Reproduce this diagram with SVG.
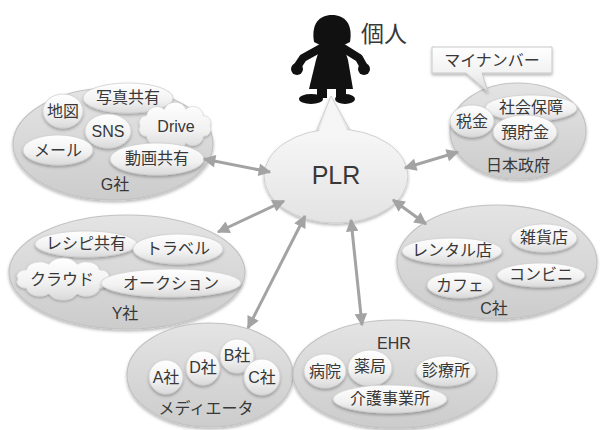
<svg xmlns="http://www.w3.org/2000/svg" width="600" height="430" viewBox="0 0 600 430">
  <defs>
    <linearGradient id="gGroup" x1="0" y1="0" x2="0" y2="1">
      <stop offset="0" stop-color="#e4e4e4"/>
      <stop offset="1" stop-color="#cccccc"/>
    </linearGradient>
    <linearGradient id="gItem" x1="0" y1="0" x2="0" y2="1">
      <stop offset="0" stop-color="#ffffff"/>
      <stop offset="0.6" stop-color="#f1f1f1"/>
      <stop offset="1" stop-color="#d9d9d9"/>
    </linearGradient>
    <linearGradient id="gHub" x1="0" y1="0" x2="0" y2="1">
      <stop offset="0" stop-color="#f7f7f7"/>
      <stop offset="1" stop-color="#e3e3e3"/>
    </linearGradient>
    <filter id="shadow" x="-20%" y="-20%" width="140%" height="150%">
      <feDropShadow dx="0" dy="2" stdDeviation="1.6" flood-color="#000" flood-opacity="0.28"/>
    </filter>
    <marker id="head" viewBox="0 0 10 10" refX="9" refY="5" markerWidth="4.5" markerHeight="4.2" orient="auto-start-reverse" markerUnits="strokeWidth">
      <path d="M0,0 L10,5 L0,10 Z" fill="#a3a3a3"/>
    </marker>
    <path id="cloud" d="M50,0 A10,10 0 0 1 40.5,14.7 A15,15 0 0 1 15.5,23.8 A17,17 0 0 1 -15.5,23.8 A15,15 0 0 1 -40.5,14.7 A10,10 0 0 1 -50,0 A10,10 0 0 1 -40.5,-14.7 A15,15 0 0 1 -15.5,-23.8 A17,17 0 0 1 15.5,-23.8 A15,15 0 0 1 40.5,-14.7 A10,10 0 0 1 50,0 Z"/>
    <style>
      .grp { fill: url(#gGroup); stroke: #c2c2c2; stroke-width: 1.2; filter: url(#shadow); }
      .itm { fill: url(#gItem); stroke: #cfcfcf; stroke-width: 0.8; filter: url(#shadow); }
      .hub { fill: url(#gHub); stroke: #d0d0d0; stroke-width: 1; }
      .cld { fill: url(#gItem); stroke: #d6d6d6; stroke-width: 1; filter: url(#shadow); }
      text { font-family: "Liberation Sans", "Noto Sans CJK JP", sans-serif; fill: #383838; text-anchor: middle; dominant-baseline: central; }
      .t { font-size: 16px; }
      .con { stroke: #a3a3a3; stroke-width: 3; fill: none; marker-start: url(#head); marker-end: url(#head); }
    </style>
  </defs>

  <rect width="600" height="430" fill="#ffffff"/>

  <!-- person -->
  <g id="person" fill="#111">
    <path d="M314,42 C311,24 319,15 332,15 C345,15 353,24 350,42 L344,45 L320,45 Z"/>
    <path d="M321,44 L343,44 L348,60 L353,89 L309,89 L316,60 Z"/>
    <path d="M321,48 L303,58 L297,67 M343,48 L359,58 L364,67" stroke="#111" stroke-width="8" stroke-linecap="round" stroke-linejoin="round" fill="none"/>
    <circle cx="297" cy="69" r="6"/>
    <circle cx="364" cy="69" r="6"/>
    <rect x="317" y="86" width="10" height="12"/>
    <rect x="336" y="86" width="10" height="12"/>
    <ellipse cx="311" cy="99" rx="12" ry="5"/>
    <ellipse cx="345" cy="99" rx="10" ry="5"/>
    <text x="384" y="34" style="font-size:23px">個人</text>
  </g>

  <!-- PLR hub with speech pointer -->
  <g id="plr">
    <path d="M316,132 L331,96 L351,132 Z" class="hub" filter="url(#shadow)"/>
    <ellipse cx="336" cy="176" rx="72" ry="47" class="hub" filter="url(#shadow)"/>
    <path d="M318,134 L331,98 L349,134 Z" fill="#f6f6f6"/>
    <text x="336" y="175" style="font-size:25px">PLR</text>
  </g>

  <!-- G社 -->
  <g id="g-company">
    <ellipse cx="113" cy="144" rx="100" ry="56" class="grp"/>
    <ellipse cx="128" cy="98" rx="45" ry="15" class="itm"/>
    <text x="128" y="97" class="t">写真共有</text>
    <ellipse cx="63" cy="111" rx="20" ry="17" class="itm"/>
    <text x="63" y="111" class="t">地図</text>
    <ellipse cx="108" cy="131" rx="23" ry="17" class="itm"/>
    <text x="108" y="131" class="t">SNS</text>
    <use href="#cloud" class="cld" transform="translate(175,126) scale(0.7,0.7)"/>
    <text x="176" y="126" class="t">Drive</text>
    <ellipse cx="58" cy="150" rx="35" ry="15" class="itm"/>
    <text x="58" y="150" class="t">メール</text>
    <ellipse cx="157" cy="159" rx="47" ry="16" class="itm"/>
    <text x="157" y="158" class="t">動画共有</text>
    <text x="115" y="184" class="t">G社</text>
  </g>

  <!-- Y社 -->
  <g id="y-company">
    <ellipse cx="127" cy="272" rx="118" ry="57" class="grp"/>
    <ellipse cx="86" cy="244" rx="51" ry="13" class="itm"/>
    <text x="86" y="243" class="t">レシピ共有</text>
    <ellipse cx="178" cy="249" rx="45" ry="15" class="itm"/>
    <text x="178" y="248" class="t">トラベル</text>
    <use href="#cloud" class="cld" transform="translate(63,279) scale(0.9,0.62)"/>
    <text x="62" y="279" class="t">クラウド</text>
    <ellipse cx="171" cy="283" rx="70" ry="14" class="itm"/>
    <text x="171" y="283" class="t">オークション</text>
    <text x="125" y="313" class="t">Y社</text>
  </g>

  <!-- 日本政府 -->
  <g id="government">
    <ellipse cx="518" cy="131" rx="68" ry="48" class="grp"/>
    <ellipse cx="531" cy="108" rx="46" ry="13" class="itm"/>
    <text x="531" y="107" class="t">社会保障</text>
    <ellipse cx="472" cy="121" rx="22" ry="16" class="itm"/>
    <text x="472" y="121" class="t">税金</text>
    <ellipse cx="525" cy="132" rx="32" ry="17" class="itm"/>
    <text x="525" y="132" class="t">預貯金</text>
    <text x="518" y="165" class="t">日本政府</text>
  </g>

  <!-- マイナンバー callout -->
  <g id="mynumber">
    <path d="M432,47 L552,47 L552,73 L482,73 L488,92 L466,73 L432,73 Z" fill="url(#gItem)" stroke="#c8c8c8" stroke-width="1" filter="url(#shadow)"/>
    <text x="492" y="60" class="t">マイナンバー</text>
  </g>

  <!-- C社 -->
  <g id="c-company">
    <ellipse cx="497" cy="262" rx="100" ry="57" class="grp"/>
    <ellipse cx="544" cy="238" rx="33" ry="14" class="itm"/>
    <text x="544" y="237" class="t">雑貨店</text>
    <ellipse cx="452" cy="251" rx="50" ry="13" class="itm"/>
    <text x="452" y="250" class="t">レンタル店</text>
    <ellipse cx="541" cy="275" rx="44" ry="12" class="itm"/>
    <text x="541" y="274" class="t">コンビニ</text>
    <ellipse cx="460" cy="285" rx="33" ry="13" class="itm"/>
    <text x="460" y="285" class="t">カフェ</text>
    <text x="494" y="308" class="t">C社</text>
  </g>

  <!-- メディエータ -->
  <g id="mediator">
    <ellipse cx="210" cy="375" rx="83" ry="52" class="grp"/>
    <circle cx="166" cy="377" r="17" class="itm"/>
    <text x="166" y="377" class="t">A社</text>
    <circle cx="203" cy="368" r="17" class="itm"/>
    <text x="203" y="367" class="t">D社</text>
    <circle cx="237" cy="356" r="17" class="itm"/>
    <text x="237" y="355" class="t">B社</text>
    <circle cx="262" cy="377" r="18" class="itm"/>
    <text x="262" y="377" class="t">C社</text>
    <text x="206" y="408" class="t">メディエータ</text>
  </g>

  <!-- EHR -->
  <g id="ehr">
    <ellipse cx="395" cy="374" rx="102" ry="54" class="grp"/>
    <text x="394" y="343" class="t">EHR</text>
    <ellipse cx="325" cy="371" rx="21" ry="17" class="itm"/>
    <text x="325" y="371" class="t">病院</text>
    <ellipse cx="370" cy="368" rx="22" ry="18" class="itm"/>
    <text x="370" y="366" class="t">薬局</text>
    <ellipse cx="446" cy="371" rx="30" ry="15" class="itm"/>
    <text x="446" y="370" class="t">診療所</text>
    <ellipse cx="390" cy="399" rx="57" ry="14" class="itm"/>
    <text x="390" y="398" class="t">介護事業所</text>
  </g>

  <!-- connectors -->
  <g id="connectors">
    <line x1="204" y1="159" x2="270" y2="172" class="con"/>
    <line x1="218" y1="232" x2="284" y2="201" class="con"/>
    <line x1="248" y1="328" x2="305" y2="216" class="con"/>
    <line x1="351" y1="220" x2="362" y2="325" class="con"/>
    <line x1="393" y1="200" x2="426" y2="224" class="con"/>
    <line x1="405" y1="168" x2="458" y2="152" class="con"/>
  </g>
</svg>
